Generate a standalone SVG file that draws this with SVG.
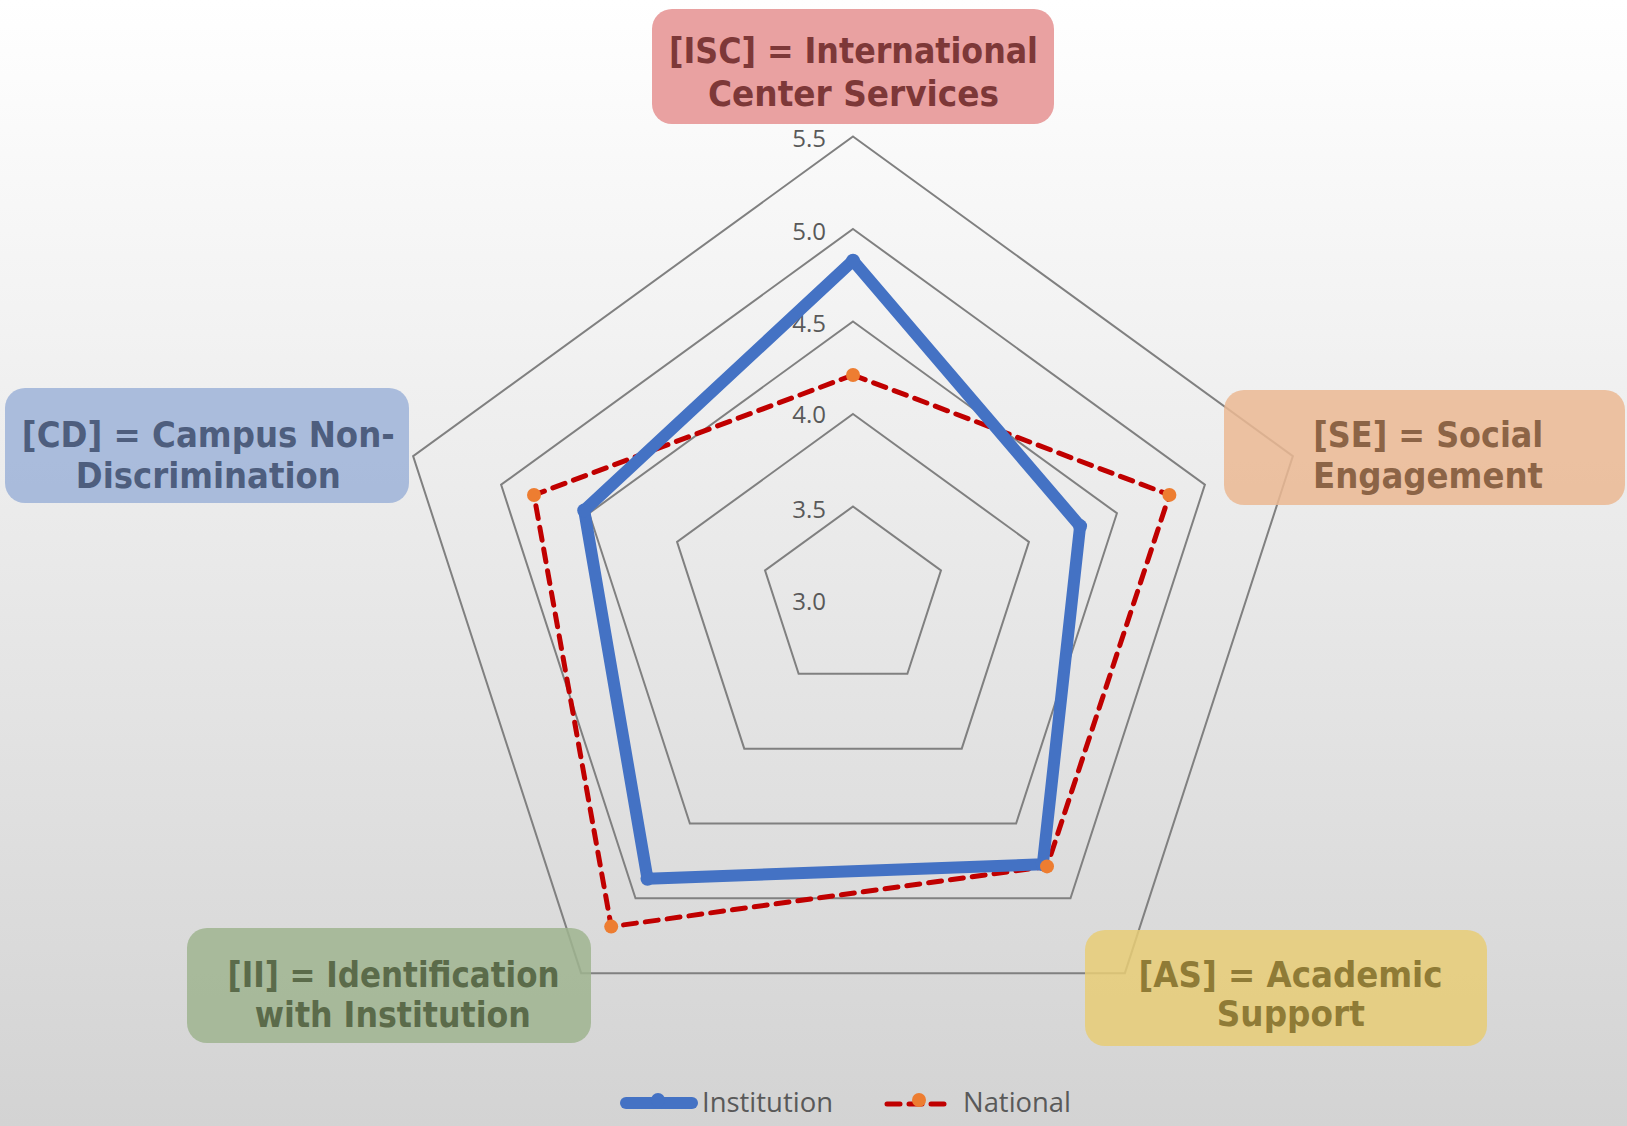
<svg xmlns="http://www.w3.org/2000/svg" width="1627" height="1126" viewBox="0 0 1627 1126">
<defs>
<linearGradient id="bg" x1="0" y1="0" x2="0" y2="1">
<stop offset="0" stop-color="#FFFFFF"/>
<stop offset="1" stop-color="#D3D3D3"/>
</linearGradient>
</defs>
<style>
.grid{fill:none;stroke:#808080;stroke-width:2;stroke-linejoin:miter}
.axl{font-family:"Open Sans","Liberation Sans",sans-serif;font-size:24px;fill:#595959;text-anchor:end}
.box{fill-opacity:0.85}
.cat{font-family:"DejaVu Sans","Liberation Sans",sans-serif;font-stretch:condensed;font-weight:bold;font-size:35px;text-anchor:middle}
.inst{fill:none;stroke:#4472C4;stroke-width:12;stroke-linejoin:round;stroke-linecap:round}
.nat{fill:none;stroke:#C00000;stroke-width:5;stroke-dasharray:13 9;stroke-linejoin:round;stroke-linecap:round}
.mi{fill:#4472C4}
.mn{fill:#ED7D31}
.leg{font-family:"Open Sans","Liberation Sans",sans-serif;font-size:27px;fill:#595959}
</style>
<rect x="0" y="0" width="1627" height="1126" fill="url(#bg)"/>
<g id="gridlines">
<polygon class="grid" points="853,506.5 940.98,570.42 907.37,673.83 798.63,673.83 765.02,570.42"/>
<polygon class="grid" points="853,414 1028.95,541.83 961.74,748.67 744.26,748.67 677.05,541.83"/>
<polygon class="grid" points="853,321.5 1116.93,513.25 1016.11,823.5 689.89,823.5 589.07,513.25"/>
<polygon class="grid" points="853,229 1204.9,484.67 1070.49,898.33 635.51,898.33 501.1,484.67"/>
<polygon class="grid" points="853,136.5 1292.88,456.09 1124.86,973.16 581.14,973.16 413.12,456.09"/>
</g>
<g id="axis-labels">
<text class="axl" x="826" y="147">5.5</text>
<text class="axl" x="826" y="240">5.0</text>
<text class="axl" x="826" y="332">4.5</text>
<text class="axl" x="826" y="423">4.0</text>
<text class="axl" x="826" y="518">3.5</text>
<text class="axl" x="826" y="610">3.0</text>
</g>
<g id="connectors">
<polygon id="series-national" class="nat" points="853,375 1169.4,494.9 1047,866.4 611.2,926.6 534,495"/>
<polygon id="series-institution" class="inst" points="853,260.7 1080.1,526.1 1042.8,864.3 647.5,878.8 584.2,510.5"/>
</g>
<g id="markers-institution">
<circle class="mi" cx="853" cy="260.7" r="7"/>
<circle class="mi" cx="1080.1" cy="526.1" r="7"/>
<circle class="mi" cx="1042.8" cy="864.3" r="7"/>
<circle class="mi" cx="647.5" cy="878.8" r="7"/>
<circle class="mi" cx="584.2" cy="510.5" r="7"/>
</g>
<g id="markers-national">
<circle class="mn" cx="853" cy="375" r="7"/>
<circle class="mn" cx="1169.4" cy="494.9" r="7"/>
<circle class="mn" cx="1047" cy="866.4" r="7"/>
<circle class="mn" cx="611.2" cy="926.6" r="7"/>
<circle class="mn" cx="534" cy="495" r="7"/>
</g>
<g id="node-isc">
<rect class="box" x="652" y="9" width="402" height="115" rx="20" fill="#E59090"/>
<text class="cat" fill="#7D3838" x="853.5" y="63" textLength="369" lengthAdjust="spacingAndGlyphs">[ISC] = International</text>
<text class="cat" fill="#7D3838" x="853.5" y="106" textLength="291" lengthAdjust="spacingAndGlyphs">Center Services</text>
</g>
<g id="node-se">
<rect class="box" x="1224" y="390" width="401" height="115" rx="20" fill="#EBB993"/>
<text class="cat" fill="#8C6446" x="1428.3" y="447" textLength="230" lengthAdjust="spacingAndGlyphs">[SE] = Social</text>
<text class="cat" fill="#8C6446" x="1428" y="488" textLength="230" lengthAdjust="spacingAndGlyphs">Engagement</text>
</g>
<g id="node-as">
<rect class="box" x="1085" y="930" width="402" height="116" rx="20" fill="#E8CC75"/>
<text class="cat" fill="#8F7B36" x="1290.5" y="987" textLength="304" lengthAdjust="spacingAndGlyphs">[AS] = Academic</text>
<text class="cat" fill="#8F7B36" x="1290.8" y="1026" textLength="148" lengthAdjust="spacingAndGlyphs">Support</text>
</g>
<g id="node-ii">
<rect class="box" x="187" y="928" width="404" height="115" rx="20" fill="#9FB48F"/>
<text class="cat" fill="#5B6B4A" x="393.5" y="987" textLength="332" lengthAdjust="spacingAndGlyphs">[II] = Identification</text>
<text class="cat" fill="#5B6B4A" x="392.8" y="1027" textLength="276" lengthAdjust="spacingAndGlyphs">with Institution</text>
</g>
<g id="node-cd">
<rect class="box" x="5" y="388" width="404" height="115" rx="20" fill="#9EB3D8"/>
<text class="cat" fill="#4E5E7E" x="208.3" y="447" textLength="373" lengthAdjust="spacingAndGlyphs">[CD] = Campus Non-</text>
<text class="cat" fill="#4E5E7E" x="208.3" y="488" textLength="265" lengthAdjust="spacingAndGlyphs">Discrimination</text>
</g>
<g id="legend">
<line x1="626" y1="1103" x2="692" y2="1103" stroke="#4472C4" stroke-width="12" stroke-linecap="round"/>
<circle class="mi" cx="658" cy="1100" r="7"/>
<text class="leg" x="702" y="1112" textLength="131" lengthAdjust="spacingAndGlyphs">Institution</text>
<line x1="887" y1="1104" x2="946" y2="1104" stroke="#C00000" stroke-width="5" stroke-dasharray="13 9" stroke-linecap="round"/>
<circle class="mn" cx="919" cy="1100" r="7"/>
<text class="leg" x="963" y="1112" textLength="108" lengthAdjust="spacingAndGlyphs">National</text>
</g>
</svg>
